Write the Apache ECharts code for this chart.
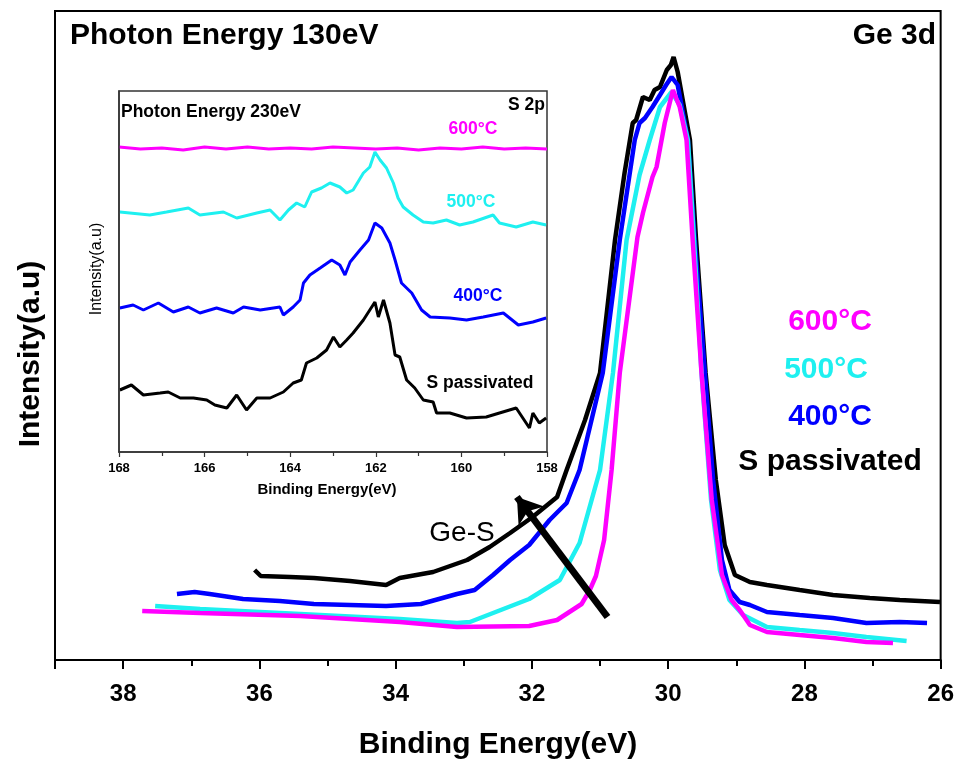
<!DOCTYPE html>
<html>
<head>
<meta charset="utf-8">
<script src="https://cdn.jsdelivr.net/npm/echarts@6/dist/echarts.min.js"></script>
<style>
html,body{margin:0;padding:0;background:#fff;}
#chart{width:957px;height:767px;}
</style>
</head>
<body>
<div id="chart"></div>
<script>
// ---- Main panel: Ge 3d, Photon Energy 130eV (binding energy eV, intensity a.u.) ----
var ge600 = [[37.72,49],[36.87,47],[35.40,44],[33.94,38],[33.10,33],[32.04,34],[31.63,40],[31.27,56],[31.15,70],[31.06,84],[30.94,120],[30.83,190],[30.71,287],[30.45,423],[30.37,447],[30.23,483],[30.17,493],[30.05,537],[29.93,570],[29.83,553],[29.73,520],[29.64,420],[29.51,287],[29.36,160],[29.21,85],[29.07,60],[28.95,50],[28.80,35],[28.55,28],[28.07,25],[27.58,22],[27.09,18],[26.70,17]];
var ge500 = [[37.53,54],[36.87,51],[35.40,46],[33.94,41],[33.10,37],[32.91,38],[32.57,47],[32.04,61],[31.59,80],[31.30,117],[31.00,190],[30.81,287],[30.61,420],[30.42,485],[30.27,520],[30.12,553],[29.95,568],[29.83,555],[29.71,520],[29.62,420],[29.51,287],[29.37,160],[29.24,90],[29.10,60],[28.90,45],[28.55,33],[28.07,30],[27.58,27],[27.09,23],[26.50,19]];
var ge400 = [[37.21,66],[36.95,68],[36.73,66],[36.24,61],[35.70,59],[35.20,56],[34.67,55],[34.14,54],[33.63,56],[33.10,66],[32.84,70],[32.57,85],[32.32,100],[32.04,115],[31.74,140],[31.49,157],[31.30,190],[30.96,287],[30.71,420],[30.49,520],[30.42,537],[30.34,542],[30.23,553],[30.12,565],[30.03,575],[29.95,583],[29.86,575],[29.71,520],[29.61,420],[29.46,287],[29.34,180],[29.21,100],[29.10,70],[28.95,58],[28.80,55],[28.55,48],[28.07,45],[27.58,42],[27.09,37],[26.60,38],[26.20,37]];
var gePass = [[36.07,90],[35.98,84],[35.55,83],[35.20,82],[34.67,79],[34.14,75],[33.94,82],[33.45,88],[32.95,100],[32.62,113],[32.32,127],[31.99,143],[31.63,163],[31.49,190],[31.22,240],[31.00,287],[30.78,420],[30.64,487],[30.52,537],[30.47,540],[30.37,563],[30.27,560],[30.20,570],[30.12,573],[30.02,590],[29.96,595],[29.92,603],[29.86,588],[29.76,550],[29.68,520],[29.59,420],[29.45,287],[29.30,180],[29.17,115],[29.02,85],[28.80,78],[28.55,75],[28.07,70],[27.58,65],[27.04,62],[26.60,60],[26.01,58]];

// ---- Inset: S 2p, Photon Energy 230eV ----
var s600 = [[168,305],[167.5,303],[167,304],[166.5,302],[166,305],[165.5,303],[165,305],[164.5,303],[164,304],[163.5,303],[163,305],[162.5,304],[162,303],[161.5,304],[161,302],[160.5,304],[160,303],[159.5,305],[159,303],[158.5,304],[158,303]];
var s500 = [[167.98,240],[167.28,237],[166.89,240],[166.38,244],[166.11,237],[165.56,240],[165.25,234],[164.78,239],[164.47,242],[164.24,232],[164.04,242],[163.85,249],[163.66,245],[163.50,260],[163.27,264],[163.07,269],[162.84,265],[162.68,259],[162.53,262],[162.29,279],[162.14,285],[162.02,300],[161.90,292],[161.75,284],[161.59,269],[161.48,254],[161.36,245],[161.13,237],[160.89,230],[160.66,229],[160.35,232],[160.04,227],[159.73,230],[159.26,237],[159.11,229],[158.72,225],[158.33,230],[158.02,227]];
var s400 = [[167.98,144],[167.67,147],[167.43,142],[167.08,149],[166.73,140],[166.38,145],[166.11,139],[165.72,144],[165.33,139],[165.09,145],[164.70,142],[164.24,145],[164.16,137],[163.93,145],[163.77,152],[163.69,169],[163.54,177],[163.30,184],[163.03,192],[162.84,187],[162.72,177],[162.60,190],[162.37,202],[162.17,212],[162.02,229],[161.86,224],[161.67,209],[161.55,192],[161.40,169],[161.16,159],[160.93,142],[160.73,135],[160.27,134],[159.88,132],[159.49,135],[159.02,139],[158.67,127],[158.33,130],[158.02,134]];
var sPass = [[167.98,62],[167.71,67],[167.43,57],[167.04,59],[166.85,60],[166.57,54],[166.26,54],[165.95,52],[165.76,47],[165.48,44],[165.25,57],[165.02,42],[164.78,54],[164.47,54],[164.16,60],[163.93,69],[163.74,72],[163.62,89],[163.38,94],[163.15,102],[162.99,115],[162.84,105],[162.68,112],[162.53,119],[162.29,132],[162.14,142],[162.02,150],[161.94,135],[161.82,152],[161.67,129],[161.55,97],[161.44,95],[161.28,72],[161.09,64],[160.89,52],[160.66,50],[160.58,39],[160.27,39],[159.88,34],[159.42,35],[159.11,39],[158.72,44],[158.41,24],[158.33,39],[158.18,29],[158.02,34]];

// arrow annotation (Ge-S) in main data coordinates
var arrowFrom = [30.89, 43];
var arrowTo = [32.22, 163];

var FONT = "'Liberation Sans', Arial, Helvetica, sans-serif";
var C_MAG = '#ff00ff', C_CYAN = '#1ef0f0', C_BLUE = '#0000ff', C_BLACK = '#000000';

var chart = echarts.init(document.getElementById('chart'));

function line(data, color, xi, yi, w, extra) {
  var s = {type:'line', data:data, xAxisIndex:xi, yAxisIndex:yi, showSymbol:false, symbol:'none',
    smooth:false, lineStyle:{color:color, width:w}, itemStyle:{color:color}, animation:false, silent:true, z: xi===1?5:2};
  if (extra) for (var k in extra) s[k]=extra[k];
  return s;
}

function txt(t, x, y, size, color, align, weight, rot) {
  return {type:'text', x:x, y:y, rotation: rot||0, z:100,
    style:{text:t, fill:color, font:(weight||'bold')+' '+size+'px '+FONT, textAlign:align||'left', textVerticalAlign:'middle'}};
}

var option = {
  backgroundColor:'#fff',
  animation:false,
  grid:[
    {left:55, top:11, width:886, height:649, show:true, borderColor:'#000', borderWidth:2, backgroundColor:'transparent'},
    {left:119, top:91, width:428, height:361, show:true, borderColor:'#333', borderWidth:1.5, backgroundColor:'#fff', z:4}
  ],
  xAxis:[
    {gridIndex:0, type:'value', min:26, max:39, interval:2, inverse:true,
      axisLine:{show:true, onZero:false, lineStyle:{color:'#000', width:2}},
      axisTick:{show:true, inside:false, length:9, lineStyle:{width:2, color:'#000'}},
      minorTick:{show:true, splitNumber:2, length:6, lineStyle:{width:2, color:'#000'}},
      splitLine:{show:false},
      axisLabel:{show:true, margin:22, color:'#000', fontSize:24, fontWeight:'bold', fontFamily:FONT, showMaxLabel:false}},
    {gridIndex:1, type:'value', min:158, max:168, interval:2, inverse:true,
      axisLine:{show:true, onZero:false, lineStyle:{color:'#333', width:1.5}},
      axisTick:{show:true, inside:false, length:5, lineStyle:{width:1.2, color:'#333'}},
      minorTick:{show:true, splitNumber:2, length:4, lineStyle:{width:1.2, color:'#333'}},
      splitLine:{show:false},
      axisLabel:{show:true, margin:10, color:'#000', fontSize:13, fontWeight:'bold', fontFamily:FONT}, z:6}
  ],
  yAxis:[
    {gridIndex:0, type:'value', min:0, max:649,
      axisLine:{show:true, lineStyle:{color:'#000', width:2}}, axisTick:{show:false}, axisLabel:{show:false}, splitLine:{show:false}},
    {gridIndex:1, type:'value', min:0, max:361,
      axisLine:{show:true, lineStyle:{color:'#333', width:1.5}}, axisTick:{show:false}, axisLabel:{show:false}, splitLine:{show:false}, z:6}
  ],
  series:[
    line(gePass, C_BLACK, 0, 0, 4.5, {markLine:{silent:true, animation:false, symbol:['none','arrow'], symbolSize:24,
      label:{show:false}, lineStyle:{color:'#000', width:7, type:'solid'}, emphasis:{disabled:true},
      data:[[{coord:arrowFrom, symbol:'none'},{coord:arrowTo, symbol:'arrow', symbolSize:24}]]}}),
    line(ge400, C_BLUE, 0, 0, 4.5),
    line(ge500, C_CYAN, 0, 0, 4.5),
    line(ge600, C_MAG, 0, 0, 4.5),
    line(sPass, C_BLACK, 1, 1, 3),
    line(s400, C_BLUE, 1, 1, 3),
    line(s500, C_CYAN, 1, 1, 3),
    line(s600, C_MAG, 1, 1, 3)
  ],
  graphic:[
    txt('Photon Energy 130eV', 70, 36, 30, '#000', 'left'),
    txt('Ge 3d', 936, 36, 30, '#000', 'right'),
    txt('600°C', 830, 322, 30, C_MAG, 'center'),
    txt('500°C', 826, 370, 30, C_CYAN, 'center'),
    txt('400°C', 830, 417, 30, C_BLUE, 'center'),
    txt('S passivated', 830, 462, 30, '#000', 'center'),
    txt('Ge-S', 462, 533, 28, '#000', 'center', 'normal'),
    txt('Binding Energy(eV)', 498, 745, 30, '#000', 'center'),
    txt('Intensity(a.u)', 31, 354, 30, '#000', 'center', 'bold', Math.PI/2),
    txt('Photon Energy 230eV', 121, 112, 17.5, '#000', 'left'),
    txt('S 2p', 545, 105, 17.5, '#000', 'right'),
    txt('600°C', 473, 129, 17.5, C_MAG, 'center'),
    txt('500°C', 471, 202, 17.5, C_CYAN, 'center'),
    txt('400°C', 478, 296, 17.5, C_BLUE, 'center'),
    txt('S passivated', 480, 383, 17.5, '#000', 'center'),
    txt('Binding Energy(eV)', 327, 490, 15, '#000', 'center'),
    txt('Intensity(a.u)', 97, 269, 16, '#000', 'center', 'normal', Math.PI/2)
  ]
};
chart.setOption(option);
</script>
</body>
</html>
